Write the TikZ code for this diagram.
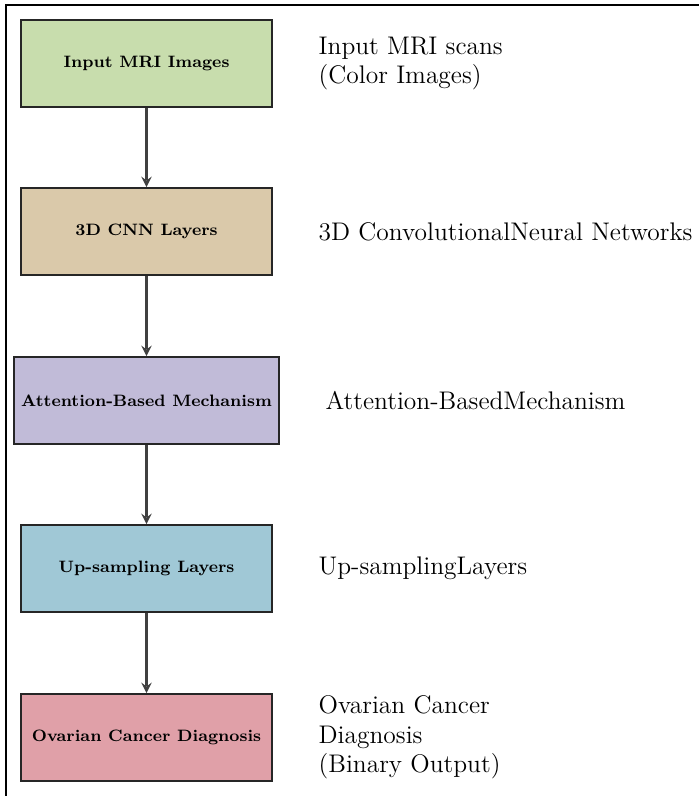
\documentclass[tikz,border=0pt]{standalone}
\usepackage{amsmath}
\usepackage{tikz}
\usetikzlibrary{arrows}
\definecolor{inGreen}{RGB}{200,221,173}
\definecolor{cnnTan}{RGB}{218,201,170}
\definecolor{attLilac}{RGB}{193,187,216}
\definecolor{upBlue}{RGB}{160,200,214}
\definecolor{outPink}{RGB}{224,160,168}
\tikzstyle{pipeline}=[x=0.485pt, y=-0.485pt]
\tikzstyle{blk}=[rectangle, draw=black!85, line width=0.9pt, minimum width=121.7pt, minimum height=42.2pt, inner sep=3pt, font=\footnotesize\bfseries]
\tikzstyle{note}=[anchor=west, inner sep=0pt, align=left, font=\fontsize{12.35}{14.2}\selectfont]
\tikzstyle{edge}=[line width=1.2pt, draw=black!75, -stealth]
\tikzstyle{frame}=[line width=1pt]
\newcommand{\blkX}{146.5}
\newcommand{\noteGap}{22pt}

\begin{document}
\begin{tikzpicture}[pipeline]
	\useasboundingbox (0,0) rectangle (699,796);
	\draw[frame] (6,796) -- (6,5) -- (699,5);
	
	\draw (\blkX,63.5) node[blk, fill=inGreen] (v1) {Input MRI Images};
	\draw (\blkX,231.5) node[blk, fill=cnnTan] (v2) {3D CNN Layers};
	\draw (\blkX,400.5) node[blk, fill=attLilac, minimum width=128.5pt] (v3) {Attention-Based Mechanism};
	\draw (\blkX,568.5) node[blk, fill=upBlue] (v4) {Up-sampling Layers};
	\draw (\blkX,737.5) node[blk, fill=outPink] (v5) {Ovarian Cancer Diagnosis};
	
	\draw[edge] (v1) -- (v2);
	\draw[edge] (v2) -- (v3);
	\draw[edge] (v3) -- (v4);
	\draw[edge] (v4) -- (v5);
	
	%The side notes
	\node[note] (n1) at ([xshift=\noteGap]v1.east) {Input MRI scans\\(Color Images)};
	\node[note] (n2) at ([xshift=\noteGap]v2.east) {3D ConvolutionalNeural Networks};
	\node[note] (n3) at ([xshift=\noteGap]v3.east) {Attention-BasedMechanism};
	\node[note] (n4) at ([xshift=\noteGap]v4.east) {Up-samplingLayers};
	\node[note] (n5) at ([xshift=\noteGap]v5.east) {Ovarian Cancer\\Diagnosis\\(Binary Output)};
\end{tikzpicture}
\end{document}
